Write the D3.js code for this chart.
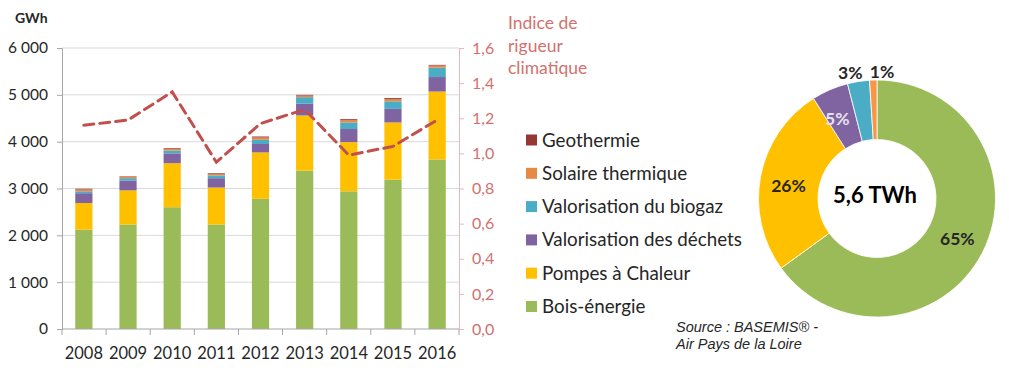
<!DOCTYPE html>
<html>
<head>
<meta charset="utf-8">
<script src="https://cdn.jsdelivr.net/npm/d3@7"></script>
<style>
  body { margin: 0; background: #fff; }
  svg { display: block; }
  text { font-family: Lato, "Open Sans", sans-serif; }
</style>
</head>
<body>
<div id="chart"></div>
<script>
// data
var years = ["2008", "2009", "2010", "2011", "2012", "2013", "2014", "2015", "2016"];
var boisEnergie = [2120, 2230, 2600, 2230, 2780, 3380, 2940, 3190, 3620];
var pompesChaleur = [570, 730, 940, 790, 990, 1180, 1050, 1220, 1450];
var valoDechets = [210, 210, 210, 200, 180, 250, 280, 290, 310];
var valoBiogaz = [40, 50, 60, 60, 90, 140, 140, 160, 200];
var solaireThermique = [40, 30, 35, 30, 50, 35, 50, 50, 45];
var geothermie = [15, 10, 15, 15, 20, 15, 20, 20, 15];
var indiceRigueur = [1.16, 1.19, 1.35, 0.95, 1.17, 1.25, 0.99, 1.04, 1.19];
var leftTicks = [0, 1000, 2000, 3000, 4000, 5000, 6000];
var rightTicks = [0, 0.2, 0.4, 0.6, 0.8, 1.0, 1.2, 1.4, 1.6];
var pieShares = [65, 26, 5, 3, 1];
var pieLabels = ["65%", "26%", "5%", "3%", "1%"];

var seriesNames = ["Bois-énergie", "Pompes à Chaleur", "Valorisation des déchets",
                   "Valorisation du biogaz", "Solaire thermique", "Geothermie"];
var seriesColors = ["#9bbb59", "#ffc000", "#8064a2", "#4bacc6", "#e48a45", "#953735"];
var pieColors = ["#9bbb59", "#ffc000", "#8064a2", "#4bacc6", "#f79646"];
var seriesValues = [boisEnergie, pompesChaleur, valoDechets, valoBiogaz, solaireThermique, geothermie];

var W = 1009, H = 377;
var svg = d3.select("#chart").append("svg").attr("width", W).attr("height", H);

var plotLeft = 62, plotRight = 459, plotTop = 48, plotBottom = 329;

var x = d3.scaleBand().domain(years).range([plotLeft, plotRight]).paddingInner(0.61).paddingOuter(0.3);
var y = d3.scaleLinear().domain([0, 6000]).range([plotBottom, plotTop]);
var y2 = d3.scaleLinear().domain([0, 1.6]).range([plotBottom, plotTop]);

// gridlines
svg.append("g").selectAll("line").data(leftTicks.slice(1)).enter().append("line")
    .attr("x1", plotLeft).attr("x2", plotRight)
    .attr("y1", function (d) { return y(d); }).attr("y2", function (d) { return y(d); })
    .style("stroke", "#d9d9d9").style("stroke-width", 1);

// stacked bars
var table = years.map(function (yr, i) {
    var row = { year: yr };
    seriesNames.forEach(function (n, k) { row[n] = seriesValues[k][i]; });
    return row;
});
var stacked = d3.stack().keys(seriesNames)(table);

svg.append("g").selectAll("g").data(stacked).enter().append("g")
    .style("fill", function (d, k) { return seriesColors[k]; })
    .selectAll("rect").data(function (d) { return d; }).enter().append("rect")
    .attr("x", function (d) { return x(d.data.year); })
    .attr("width", x.bandwidth())
    .attr("y", function (d) { return y(d[1]); })
    .attr("height", function (d) { return y(d[0]) - y(d[1]); });

// left axis
var fmt = function (d) { return d === 0 ? "0" : d3.format(",")(d).replace(",", " "); };
var leftAxis = svg.append("g").attr("transform", "translate(" + plotLeft + ",0)")
    .call(d3.axisLeft(y).tickValues(leftTicks).tickSize(5).tickFormat(fmt));
leftAxis.select(".domain").style("stroke", "#a6a6a6");
leftAxis.selectAll(".tick line").style("stroke", "#a6a6a6");
leftAxis.selectAll("text").attr("x", -14).style("font-size", "15.5px").style("fill", "#262626")
    .style("font-family", "Lato, sans-serif");

// bottom axis with ticks between categories
var bottom = svg.append("g");
bottom.append("line").attr("x1", plotLeft).attr("x2", plotRight).attr("y1", plotBottom).attr("y2", plotBottom)
    .style("stroke", "#a6a6a6");
var sepX = d3.range(years.length + 1).map(function (i) { return plotLeft + i * (plotRight - plotLeft) / years.length; });
bottom.selectAll("line.sep").data(sepX).enter().append("line").attr("class", "sep")
    .attr("x1", function (d) { return d; }).attr("x2", function (d) { return d; })
    .attr("y1", plotBottom).attr("y2", plotBottom + 6).style("stroke", "#a6a6a6");
bottom.selectAll("text").data(years).enter().append("text")
    .attr("x", function (d) { return x(d) + x.bandwidth() / 2; })
    .attr("y", 359)
    .attr("text-anchor", "middle")
    .style("font-size", "16.5px").style("fill", "#262626")
    .text(function (d) { return d; });

// right axis
var rightAxis = svg.append("g").attr("transform", "translate(" + plotRight + ",0)")
    .call(d3.axisRight(y2).tickValues(rightTicks).tickSize(5)
        .tickFormat(function (d) { return d3.format(".1f")(d).replace(".", ","); }));
rightAxis.select(".domain").style("stroke", "#e6b9b8");
rightAxis.selectAll(".tick line").style("stroke", "#e6b9b8");
rightAxis.selectAll("text").attr("x", 13).style("font-size", "16px").style("fill", "#d2716e")
    .style("font-family", "Lato, sans-serif");

// climate index dashed line
var line = d3.line()
    .x(function (d, i) { return x(years[i]) + x.bandwidth() / 2; })
    .y(function (d) { return y2(d); });
svg.append("path").datum(indiceRigueur).attr("d", line)
    .style("fill", "none").style("stroke", "#c0504d").style("stroke-width", 3)
    .style("stroke-dasharray", "10,6").style("stroke-linecap", "round");

// titles
svg.append("text").attr("x", 15).attr("y", 23).text("GWh")
    .style("font-size", "14px").style("font-weight", "bold").style("fill", "#262626");
var idx = svg.append("text").attr("x", 508).attr("y", 29).style("font-size", "17.5px").style("fill", "#d2716e");
["Indice de", "rigueur", "climatique"].forEach(function (t, i) {
    idx.append("tspan").attr("x", 508).attr("dy", i === 0 ? 0 : 22.5).text(t);
});

// legend (top to bottom reversed order)
var legendNames = seriesNames.slice().reverse();
var legendColors = ["#953735", "#e48a45", "#4bacc6", "#8064a2", "#ffc000", "#9bbb59"];
var legend = svg.append("g");
var lg = legend.selectAll("g").data(legendNames).enter().append("g")
    .attr("transform", function (d, i) { return "translate(526," + (140 + i * 33.3) + ")"; });
lg.append("rect").attr("x", 0).attr("y", -5.5).attr("width", 11).attr("height", 11)
    .style("fill", function (d, i) { return legendColors[i]; });
lg.append("text").attr("x", 16).attr("y", 6.5).style("font-size", "18.8px").style("fill", "#262626")
    .text(function (d) { return d; });

// donut
var cx = 877, cy = 198.5, rOut = 118.5, rIn = 59;
var pie = d3.pie().sort(null).value(function (d) { return d; });
var arc = d3.arc().innerRadius(rIn).outerRadius(rOut);
var donut = svg.append("g").attr("transform", "translate(" + cx + "," + cy + ")");
var arcs = pie(pieShares);
donut.selectAll("path").data(arcs).enter().append("path")
    .attr("d", arc)
    .style("fill", function (d, i) { return pieColors[i]; })
    .style("stroke", "#fff").style("stroke-width", 0.8);

var labelR = [rOut * 0.78, rOut * 0.76, rOut * 0.76, rOut * 1.06, rOut * 1.07];
var labelShift = [[-2, -2], [0, 4], [-4, 3], [-7, -2], [9, 0]];
donut.selectAll("text.pct").data(arcs).enter().append("text").attr("class", "pct")
    .attr("transform", function (d, i) {
        var a = (d.startAngle + d.endAngle) / 2;
        var px = Math.sin(a) * labelR[i] + labelShift[i][0];
        var py = -Math.cos(a) * labelR[i] + labelShift[i][1];
        return "translate(" + px + "," + py + ")";
    })
    .attr("text-anchor", "middle").attr("dy", "0.35em")
    .style("font-size", "17.5px").style("font-weight", "bold")
    .style("fill", function (d, i) { return i === 2 ? "#e8e0f0" : "#262626"; })
    .text(function (d, i) { return pieLabels[i]; });

donut.append("text").attr("x", -2).attr("y", -3).attr("text-anchor", "middle").attr("dy", "0.35em")
    .style("font-size", "22px").style("font-weight", "bold").style("fill", "#000").text("5,6 TWh");

// source
var src = svg.append("text").attr("x", 676).attr("y", 332)
    .style("font-family", "'Liberation Sans', Arial, sans-serif").style("font-style", "italic")
    .style("font-size", "14.5px").style("fill", "#262626");
src.append("tspan").attr("x", 676).text("Source : BASEMIS® -");
src.append("tspan").attr("x", 676).attr("dy", 17).text("Air Pays de la Loire");
</script>
</body>
</html>
